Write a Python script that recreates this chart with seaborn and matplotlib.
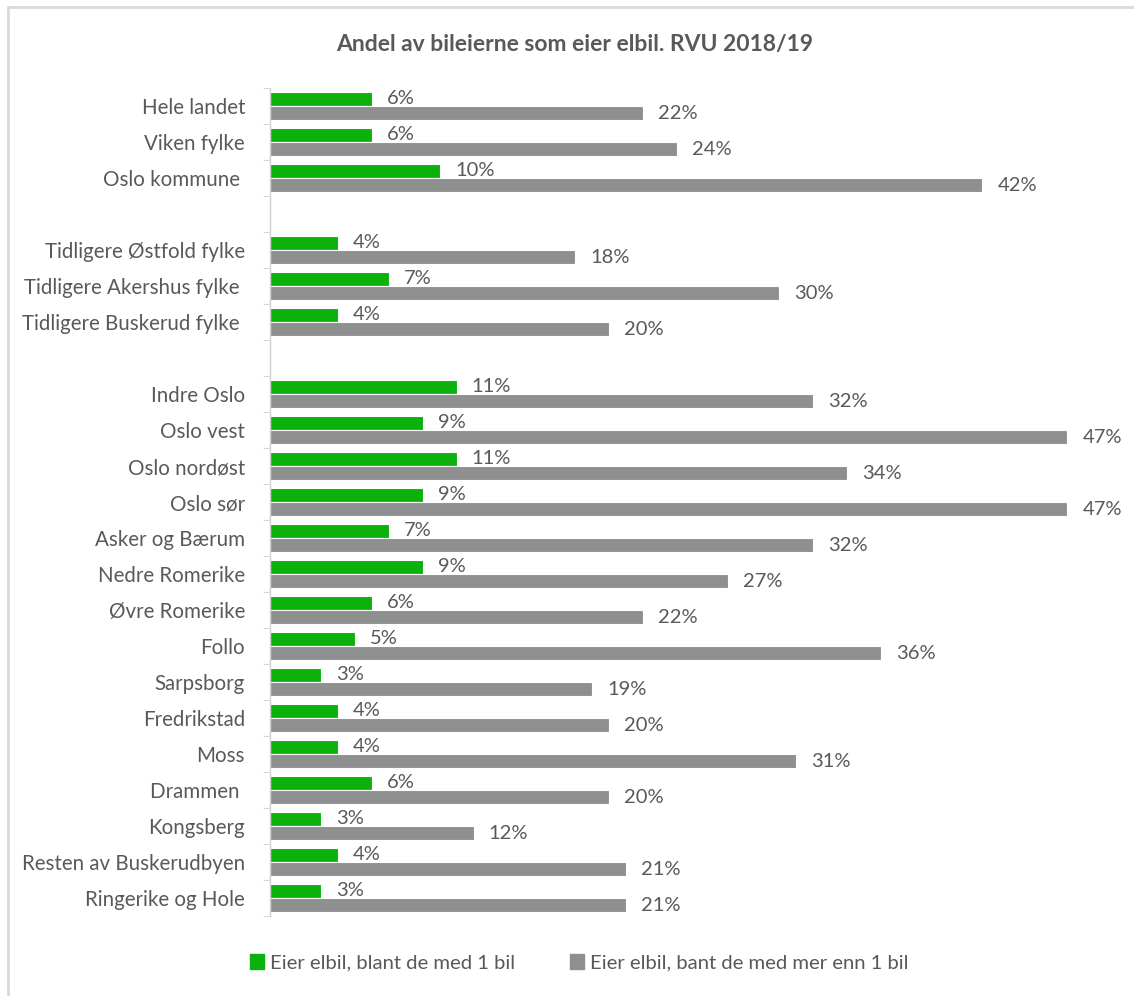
import numpy as np
import pandas as pd
import seaborn as sns
import matplotlib.pyplot as plt
from matplotlib.lines import Line2D

# regions top to bottom, blank entries are the gaps between groups
regions = ["Hele landet", "Viken fylke", "Oslo kommune ", " ",
           "Tidligere Østfold fylke", "Tidligere Akershus fylke ", "Tidligere Buskerud fylke ", "  ",
           "Indre Oslo", "Oslo vest", "Oslo nordøst", "Oslo sør", "Asker og Bærum",
           "Nedre Romerike", "Øvre Romerike", "Follo", "Sarpsborg", "Fredrikstad", "Moss",
           "Drammen ", "Kongsberg", "Resten av Buskerudbyen", "Ringerike og Hole"]
one_car = [6, 6, 10, None, 4, 7, 4, None,
           11, 9, 11, 9, 7, 9, 6, 5, 3, 4, 4, 6, 3, 4, 3]
more_cars = [22, 24, 42, None, 18, 30, 20, None,
             32, 47, 34, 47, 32, 27, 22, 36, 19, 20, 31, 20, 12, 21, 21]
series = ["Eier elbil, blant de med 1 bil", "Eier elbil, bant de med mer enn 1 bil"]
colors = ["#0BB10B", "#8E908F"]
title = "Andel av bileierne som eier elbil. RVU 2018/19"

rows = []
for r, a, b in zip(regions, one_car, more_cars):
    if a is None:
        continue
    rows.append({"region": r, "serie": series[0], "value": a})
    rows.append({"region": r, "serie": series[1], "value": b})
df = pd.DataFrame(rows)

sns.set_style("white")
plt.rcParams["font.family"] = ["Lato", "DejaVu Sans"]
text_col = "#595959"

fig = plt.figure(figsize=(11.34, 9.96), dpi=100)
ax = fig.add_axes([270 / 1134, 1 - 916 / 996, 848 / 1134, 828 / 996])

sns.barplot(data=df, y="region", x="value", hue="serie", order=regions,
            hue_order=series, palette=colors, orient="h", width=0.8,
            saturation=1, edgecolor="white", linewidth=0.8, ax=ax, legend=False)

for c in ax.containers:
    ax.bar_label(c, fmt=lambda v: f"{v:.0f}%", padding=11, fontsize=14.5, color=text_col)

ax.set_xlim(0, 50)
ax.set_ylim(len(regions) - 0.5, -0.5)
ax.set_xlabel("")
ax.set_ylabel("")
ax.set_xticks([])
ax.set_yticks(np.arange(len(regions)))
ax.set_yticklabels(regions, fontsize=14.8, color=text_col)
ax.set_yticks(np.arange(len(regions) + 1) - 0.5, minor=True)
ax.tick_params(axis="y", which="major", length=0, pad=18)
ax.tick_params(axis="y", which="minor", length=5, color="#D0D0D0", direction="out", left=True)
for s in ["top", "right", "bottom"]:
    ax.spines[s].set_visible(False)
ax.spines["left"].set_color("#D0D0D0")
ax.spines["left"].set_linewidth(1)

fig.text(0.507, 1 - 45 / 996, title, ha="center", va="center",
         fontsize=16.5, fontweight="bold", color=text_col)

handles = [plt.Rectangle((0, 0), 1, 1, color=c) for c in colors]
fig.legend(handles, series, loc="center", bbox_to_anchor=(0.511, 1 - 963 / 996), ncol=2,
           frameon=False, fontsize=14.6, labelcolor=text_col, handlelength=0.7,
           handleheight=0.7, handletextpad=0.3, columnspacing=2.7)

# outer chart frame (top and left edges visible)
fig.add_artist(Line2D([8 / 1134, 1], [1 - 7 / 996, 1 - 7 / 996], color="#D9D9D9", lw=2))
fig.add_artist(Line2D([8 / 1134, 8 / 1134], [0, 1 - 7 / 996], color="#D9D9D9", lw=2))

fig.savefig("out.png", dpi=100)
